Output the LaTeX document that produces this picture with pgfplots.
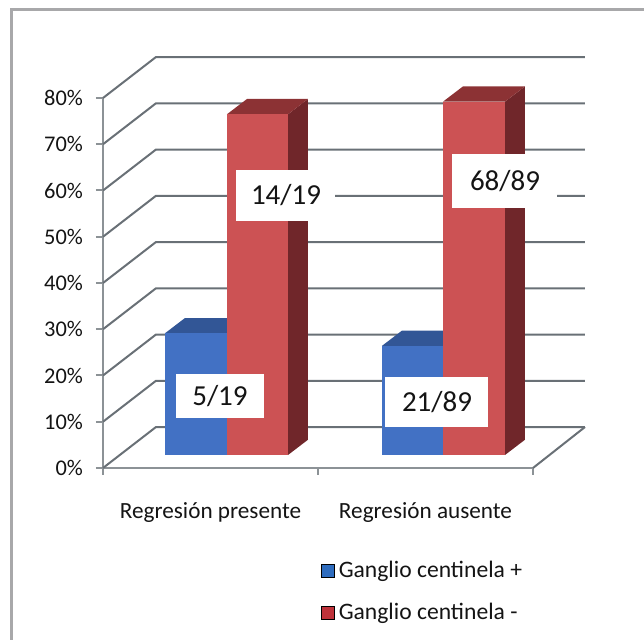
\documentclass[border=0pt]{standalone}
\usepackage{fontspec}
\setmainfont{Carlito}
\usepackage{pgfplots}
\pgfplotsset{compat=1.18}

\definecolor{blueF}{RGB}{66,113,196}
\definecolor{blueT}{RGB}{50,86,150}
\definecolor{blueS}{RGB}{40,70,125}
\definecolor{redF}{RGB}{204,82,84}
\definecolor{redS}{RGB}{112,38,42}
\definecolor{redT}{RGB}{140,50,52}
\definecolor{gridc}{RGB}{105,112,118}
\definecolor{axisc}{RGB}{140,146,150}
\definecolor{framec}{RGB}{168,168,170}
\definecolor{txt}{RGB}{20,20,20}
\definecolor{legB}{RGB}{46,108,190}
\definecolor{legR}{RGB}{190,50,58}

% bar geometry: front baseline (in % of the front scale) and depth offsets
\def\yb{2.81}
\def\dX{20}
\def\dY{3.3}
\newcommand{\threedbar}[6]{% #1 left, #2 right, #3 value, #4 front, #5 side, #6 top
  \pgfmathsetmacro\bT{\yb+#3}%
  \pgfmathsetmacro\bTT{\yb+#3+\dY}%
  \pgfmathsetmacro\bRR{#2+\dX}%
  \pgfmathsetmacro\bLL{#1+\dX}%
  \pgfmathsetmacro\bYY{\yb+\dY}%
  \addplot[fill=#5, draw=none] coordinates {(#2,\yb) (\bRR,\bYY) (\bRR,\bTT) (#2,\bT)};
  \addplot[fill=#6, draw=none] coordinates {(#1,\bT) (#2,\bT) (\bRR,\bTT) (\bLL,\bTT)};
  \addplot[fill=#4, draw=none] coordinates {(#1,\yb) (#2,\yb) (#2,\bT) (#1,\bT)};
}

\begin{document}
\begin{tikzpicture}
\begin{axis}[
  x=0.5pt, y=2.3125pt,
  xmin=103, xmax=533, ymin=0, ymax=80,
  clip=false,
  axis x line*=bottom, axis y line*=left,
  axis line style={draw=axisc, line width=1pt},
  tick align=outside,
  major tick length=3.5pt,
  tick style={draw=axisc, line width=1pt},
  ytick={0,10,...,80},
  yticklabels={0\%,10\%,20\%,30\%,40\%,50\%,60\%,70\%,80\%},
  yticklabel style={font=\fontsize{11.2}{13}\selectfont, text=txt, xshift=-3pt},
  xtick={103,318,533},
  xticklabels={,,},
  extra x ticks={210.5,425.5},
  extra x tick labels={Regresión presente,Regresión ausente},
  extra x tick style={major tick length=0pt, tick style={draw=none}},
  xticklabel style={font=\fontsize{11.6}{13}\selectfont, text=txt, yshift=-13.5pt},
  legend cell align=left,
  legend style={at={(axis cs:321,-26.8)}, anchor=west, draw=none, fill=none,
    inner sep=0pt, outer sep=0pt, row sep=7pt,
    font=\fontsize{11.8}{13}\selectfont, text=txt},
  legend image code/.code={\fill[#1] (0pt,-3.2pt) rectangle (6.5pt,3.2pt);},
]
\addlegendimage{fill=legB}
\addlegendentry{Ganglio centinela +}
\addlegendimage{fill=legR}
\addlegendentry{Ganglio centinela -}

% picture extent and frame
\path (axis cs:0,-37.19) rectangle (axis cs:644,101.19);
\fill[framec] (axis cs:10,-37.19) rectangle (axis cs:13,98.81);
\fill[framec] (axis cs:10,99.46) rectangle (axis cs:644,98.81);

% side wall, back wall and floor lines
\addplot[gridc, line width=1pt] coordinates {(103,0) (156,8.86) (585,8.86)};
\addplot[gridc, line width=1pt] coordinates {(533,0) (585,8.86)};
\addplot[gridc, line width=1pt] coordinates {(103,10) (156,18.86) (585,18.86)};
\addplot[gridc, line width=1pt] coordinates {(103,20) (156,28.86) (585,28.86)};
\addplot[gridc, line width=1pt] coordinates {(103,30) (156,38.86) (585,38.86)};
\addplot[gridc, line width=1pt] coordinates {(103,40) (156,48.86) (585,48.86)};
\addplot[gridc, line width=1pt] coordinates {(103,50) (156,58.86) (585,58.86)};
\addplot[gridc, line width=1pt] coordinates {(103,60) (156,68.86) (585,68.86)};
\addplot[gridc, line width=1pt] coordinates {(103,70) (156,78.86) (585,78.86)};
\addplot[gridc, line width=1pt] coordinates {(103,80) (156,88.86) (585,88.86)};

% bars: Regresion presente (5/19, 14/19), Regresion ausente (21/89, 68/89)
\threedbar{165}{227}{26.32}{blueF}{blueS}{blueT}
\threedbar{227}{288}{73.68}{redF}{redS}{redT}
\threedbar{382}{443}{23.60}{blueF}{blueS}{blueT}
\threedbar{443}{505}{76.40}{redF}{redS}{redT}

% data labels
\tikzset{lbl/.style={fill=white, inner sep=0pt, text=txt, font=\fontsize{14.5}{16}\selectfont}}
\node[lbl, minimum width=44pt, minimum height=22pt] at (axis cs:220,15.57) {5/19};
\node[lbl, minimum width=49.5pt, minimum height=25.5pt] at (axis cs:286,59.0) {14/19};
\node[lbl, minimum width=51.5pt, minimum height=25pt] at (axis cs:437,14.27) {21/89};
\node[lbl, minimum width=52.5pt, minimum height=27pt] at (axis cs:505,62.05) {68/89};
\end{axis}
\end{tikzpicture}
\end{document}
